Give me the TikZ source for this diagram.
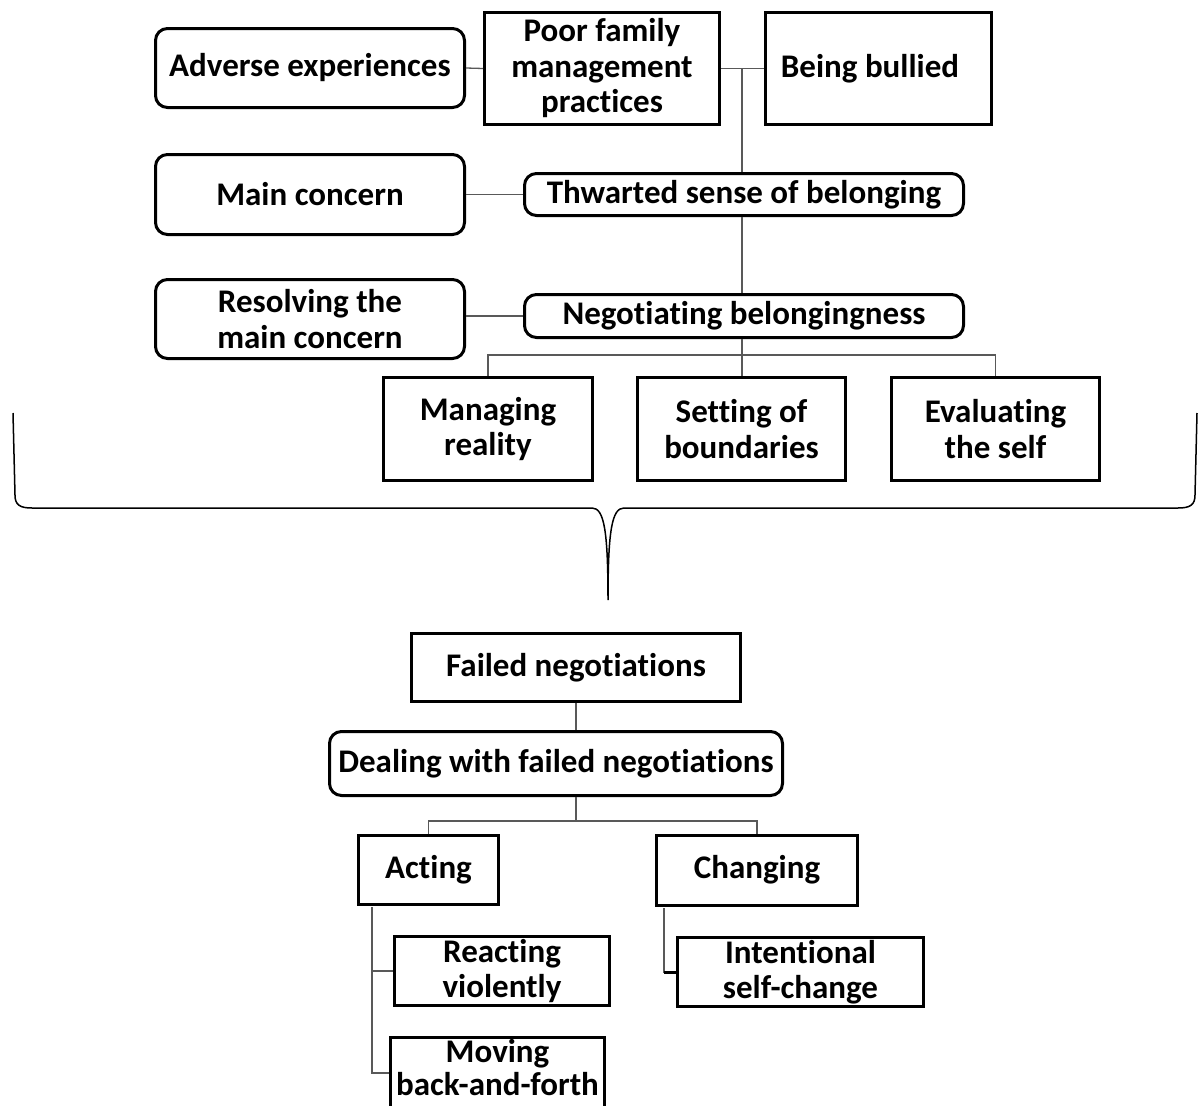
\documentclass[tikz,border=0pt]{standalone}
\usepackage{fontspec}
\setmainfont[Ligatures=NoCommon]{Carlito}
\begin{document}
\begin{tikzpicture}[x=1pt,y=-1pt,
 box/.style={draw=black,line width=3pt,fill=white,align=center,font=\fontsize{33}{35.5}\selectfont\bfseries,inner sep=0pt},
 rbox/.style={box,rounded corners=12pt},
 conn/.style={draw=black!65,line width=1.3pt},
 bracel/.style={draw=black,line width=1.5pt}]
\useasboundingbox (0,0) rectangle (1200,1106);
% top row
\node[rbox,minimum width=309pt,minimum height=79pt] (adv) at (310,68) {Adverse experiences};
\node[box,minimum width=235pt,minimum height=112pt] (poor) at (602,68.5) {Poor family\\management\\practices};
\node[box,minimum width=226pt,minimum height=112pt] (bully) at (878.5,68.5) {\hspace*{-17pt}Being bullied};
\node[rbox,minimum width=309pt,minimum height=80pt] (main) at (310,194.5) {Main concern};
\node[rbox,minimum width=439pt,minimum height=42pt] (thw) at (744,194.5) {Thwarted sense of belonging};
\node[rbox,minimum width=309pt,minimum height=79pt] (res) at (310,319) {Resolving the\\main concern};
\node[rbox,minimum width=439pt,minimum height=43pt] (neg) at (744,316) {Negotiating belongingness};
\node[box,minimum width=209pt,minimum height=103pt] (mr) at (488,429) {Managing\\reality};
\node[box,minimum width=208pt,minimum height=103pt] (sb) at (741.5,429) {Setting of\\boundaries};
\node[box,minimum width=208pt,minimum height=103pt] (ev) at (995.5,429) {Evaluating\\the self};
% connectors top
\coordinate (j1) at (742,68);
\draw[conn] (adv.east) -- (poor.west);
\draw[conn] (poor.east) -- (bully.west);
\draw[conn] (j1) -- (j1 |- thw.north);
\draw[conn] (main.east) -- (thw.west);
\draw[conn] (j1 |- thw.south) -- (j1 |- neg.north);
\draw[conn] (neg.west -| res.east) -- (neg.west);
\coordinate (b1) at (742,355);
\draw[conn] (b1 |- neg.south) -- (b1);
\draw[conn] (mr.north) |- (b1) -| (ev.north);
\draw[conn] (b1) -- (b1 |- sb.north);
% brace
\draw[bracel] (13,413) -- (15,495) .. controls (15,505) and (20,508) .. (32,508) -- (592,508)
  .. controls (604,508) and (608,530) .. (608,600)
  .. controls (608,530) and (612,508) .. (624,508) -- (1178,508)
  .. controls (1190,508) and (1195,505) .. (1195,495) -- (1197,413);
% bottom part
\node[box,minimum width=329pt,minimum height=68pt] (fail) at (576,667.5) {Failed negotiations};
\node[rbox,minimum width=453pt,minimum height=64pt] (deal) at (556,763.5) {Dealing with failed negotiations};
\node[box,minimum width=140pt,minimum height=69pt] (act) at (428.5,870) {Acting};
\node[box,minimum width=201pt,minimum height=70pt] (chg) at (757,870) {Changing};
\node[box,minimum width=215pt,minimum height=69pt] (rv) at (502,971) {Reacting\\violently};
\node[box,minimum width=246pt,minimum height=69pt] (isc) at (800.5,972) {Intentional\\self-change};
\node[box,minimum width=214pt,minimum height=72pt] (mb) at (497.5,1073) {Moving\\[-2.5pt]back-and-forth\rule[-11pt]{0pt}{0pt}};
\draw[conn] (fail.south) -- (fail.south |- deal.north);
\coordinate (b2) at (576,821);
\draw[conn] (b2 |- deal.south) -- (b2);
\draw[conn] (act.north) |- (b2) -| (chg.north);
\coordinate (a1) at (372,907);
\draw[conn] (a1) |- (rv.west);
\draw[conn] (a1) |- (mb.west);
\coordinate (c1) at (664,908);
\draw[conn] (c1) |- (isc.west);
\draw[line width=3pt] (c1 |- isc.west) -- (isc.west);
\end{tikzpicture}
\end{document}
